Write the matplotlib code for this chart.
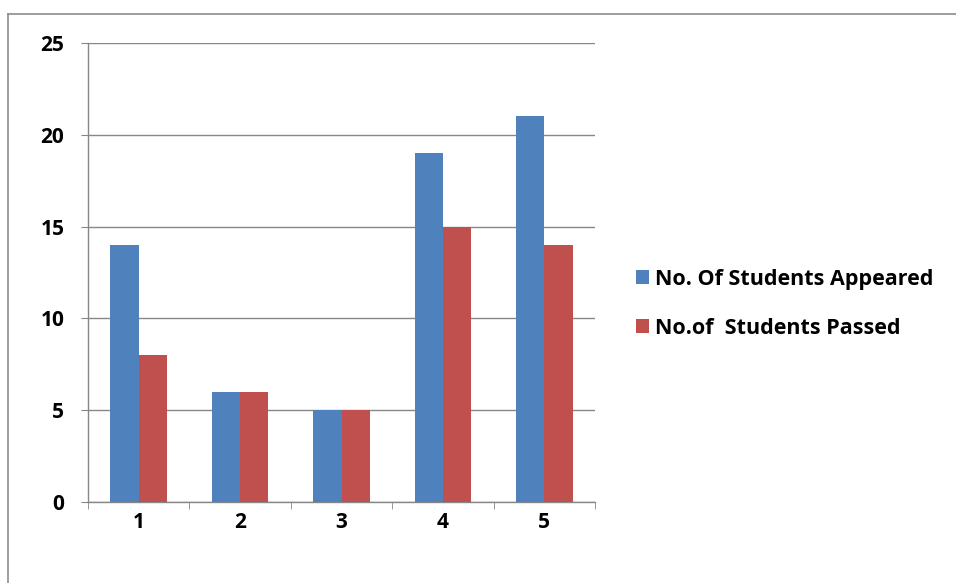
import matplotlib
matplotlib.use("Agg")
import matplotlib.pyplot as plt
from matplotlib.lines import Line2D
import numpy as np

categories = ["1", "2", "3", "4", "5"]
appeared = [14, 6, 5, 19, 21]
passed = [8, 6, 5, 15, 14]
series_names = ["No. Of Students Appeared", "No.of  Students Passed"]
yticks = [0, 5, 10, 15, 20, 25]

plt.rcParams['font.family'] = ['Open Sans', 'DejaVu Sans']

fig = plt.figure(figsize=(9.56, 5.83), dpi=100)
ax = fig.add_axes([88/956, 1-502/583, (595-88)/956, (502-43)/583])

x = np.arange(1, len(categories)+1)
w = 0.28
b1 = ax.bar(x - w/2, appeared, w, color="#4F81BD", label=series_names[0], zorder=3)
b2 = ax.bar(x + w/2, passed, w, color="#C0504D", label=series_names[1], zorder=3)

ax.set_xlim(0.5, 5.5)
ax.set_ylim(0, 25)
ax.set_yticks(yticks)
ax.set_xticks(x)
ax.set_xticklabels(categories)
ax.set_xticks(np.arange(0.5, 5.6, 1), minor=True)
ax.tick_params(axis='x', which='major', length=0, pad=7, labelsize=15)
ax.tick_params(axis='x', which='minor', length=5, direction='out', color='#878787')
ax.tick_params(axis='y', length=5, direction='out', color='#878787', pad=12, labelsize=15)
for lab in ax.get_xticklabels() + ax.get_yticklabels():
    lab.set_fontweight('bold')
ax.grid(axis='y', color='#878787', linewidth=1, zorder=0)
for s in ['top', 'right']:
    ax.spines[s].set_visible(False)
for s in ['left', 'bottom']:
    ax.spines[s].set_color('#878787')
    ax.spines[s].set_linewidth(1)

leg = fig.legend(handles=[b1, b2], loc='upper left', bbox_to_anchor=(636/956, 1-269/583),
                 frameon=False, borderpad=0, borderaxespad=0,
                 handlelength=0.62, handleheight=0.62, handletextpad=0.25,
                 labelspacing=1.3, prop={'weight': 'bold', 'size': 15.5})

fig.add_artist(Line2D([8/956, 1], [1-14/583, 1-14/583], color='#8c8c8c', linewidth=1.2))
fig.add_artist(Line2D([8/956, 8/956], [0, 1-14/583], color='#8c8c8c', linewidth=1.2))

fig.savefig("out.png", dpi=100)
